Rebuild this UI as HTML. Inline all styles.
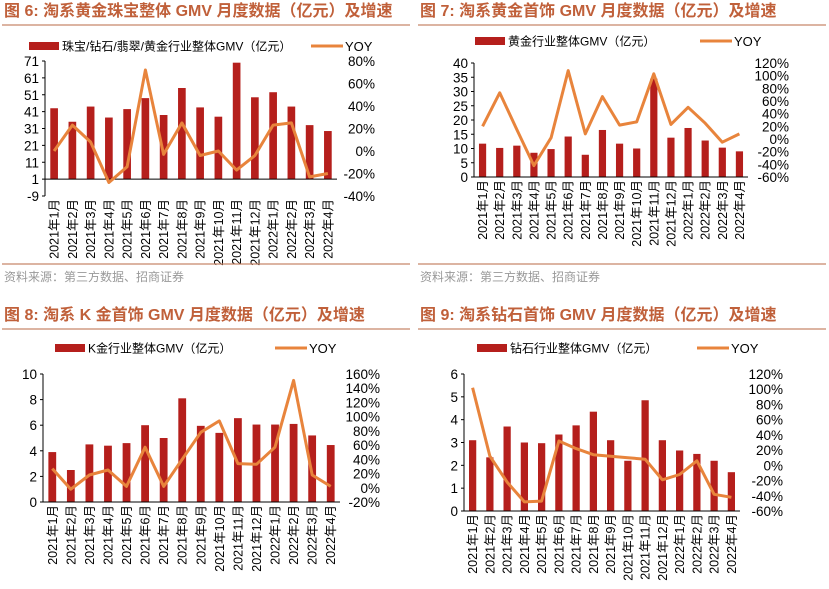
<!DOCTYPE html>
<html><head><meta charset="utf-8"><style>
body{margin:0;background:#fff;width:829px;height:589px;overflow:hidden;font-family:"Liberation Sans","Noto Sans CJK SC",sans-serif}
svg{position:absolute;left:0;top:0}
</style></head><body>
<svg id="s" width="829" height="589"></svg>
<script>
const cats=["2021年1月","2021年2月","2021年3月","2021年4月","2021年5月","2021年6月","2021年7月","2021年8月","2021年9月","2021年10月","2021年11月","2021年12月","2022年1月","2022年2月","2022年3月","2022年4月"];
const gmv6=[43,35,44,37.5,42.5,49,39,55,43.5,38,70,49.5,52.5,44,33,29.5];
const yoy6=[0,23,8,-28,-14,72,-3,25,-4,0,-17,-4,23,25,-23,-20];
const left6=[71,61,51,41,31,21,11,1,-9];
const right6=["80%","60%","40%","20%","0%","-20%","-40%"];
const gmv7=[11.7,10.2,11,8.5,9.8,14.2,7.8,16.5,11.7,10,34.5,13.8,17.2,12.8,10.3,9];
const yoy7=[20,73,15,-42,2,108,8,67,22,27,103,23,50,25,-5,8];
const left7=[40,35,30,25,20,15,10,5,0];
const right7=["120%","100%","80%","60%","40%","20%","0%","-20%","-40%","-60%"];
const gmv8=[3.9,2.5,4.5,4.4,4.6,6,5,8.1,5.95,5.4,6.55,6.05,6.05,6.1,5.2,4.45];
const yoy8=[27,-2,18,25,2,57,2,40,78,94,34,33,57,151,18,2];
const left8=[10,8,6,4,2,0];
const right8=["160%","140%","120%","100%","80%","60%","40%","20%","0%","-20%"];
const gmv9=[3.1,2.35,3.7,3.0,2.97,3.35,3.75,4.35,3.1,2.2,4.85,3.1,2.65,2.5,2.2,1.7];
const yoy9=[102,12,-22,-48,-47,32,22,14,12,10,8,-19,-12,6,-38,-42];
const left9=[6,5,4,3,2,1,0];
const right9=["120%","100%","80%","60%","40%","20%","0%","-20%","-40%","-60%"];

const S=document.getElementById('s');const NS='http://www.w3.org/2000/svg';
function mk(t,a,txt){const e=document.createElementNS(NS,t);for(const k in a)e.setAttribute(k,a[k]);if(txt!=null)e.textContent=txt;S.appendChild(e);return e;}
function chart(o,gmv,yoy,lt,rt){
 const t=mk('text',{x:o.ox+2,y:o.ty,'font-size':16,'font-weight':'bold',fill:'#c0603a'},o.title);
 
 const l=mk('line',{x1:o.ox,x2:o.ox+408,y1:o.ty+9,y2:o.ty+9,stroke:'#c8866a','stroke-width':1.2});
 
 const lr=mk('rect',{x:o.lgx,y:o.lgy-4,width:30,height:8,fill:'#b51f1c'});
 
 const lt1=mk('text',{x:o.lgx+33,y:o.lgy+4.5,'font-size':12,fill:'#000'},o.leg);
 
 const ll=mk('line',{x1:o.lgx2,x2:o.lgx2+32,y1:o.lgy,y2:o.lgy,stroke:'#e8843c','stroke-width':3});
 
 const lt2=mk('text',{x:o.lgx2+34,y:o.lgy+5,'font-size':13,fill:'#000'},'YOY');
 
 const lmax=lt[0],lmin=lt[lt.length-1];
 const yL=v=>o.y0+(lmax-v)/(lmax-lmin)*(o.y1-o.y0);
 const rmax=parseFloat(rt[0]),rmin=parseFloat(rt[rt.length-1]);
 const yR=v=>o.y0+(rmax-v)/(rmax-rmin)*(o.y1-o.y0);
 const bw=(o.x1-o.x0)/cats.length;const xC=i=>o.x0+bw*(i+0.5);
 lt.forEach(v=>{const e=mk('text',{x:o.x0-6,y:yL(v)+5,'font-size':13.5,'text-anchor':'end'},v);
  
  const k=mk('line',{x1:o.x0-3,x2:o.x0,y1:yL(v),y2:yL(v),stroke:'#000'});
  });
 rt.forEach(v=>{const e=mk('text',{x:o.rx,y:yR(parseFloat(v))+5,'font-size':13.5,'text-anchor':'end'},v);
  });
 const base=yL(o.base);
 gmv.forEach((v,i)=>{const y=yL(v);const r=mk('rect',{x:xC(i)-bw*0.21,y:Math.min(y,base),width:bw*0.42,height:Math.abs(base-y),fill:'#b51f1c'});
  });
 const ax=mk('line',{x1:o.x0,x2:o.x0,y1:o.y0,y2:o.y1,stroke:'#000'});
 
 const xa=mk('line',{x1:o.x0,x2:o.x1,y1:base,y2:base,stroke:'#000'});
 
 const pts=yoy.map((v,i)=>xC(i).toFixed(1)+','+yR(v).toFixed(1)).join(' ');
 const p=mk('polyline',{points:pts,fill:'none',stroke:'#e8843c','stroke-width':3,'stroke-linejoin':'round'});
 
 cats.forEach((c,i)=>{const x=xC(i)+4.5,y=o.y1+3;const e=mk('text',{x:x,y:y,'font-size':12.5,'text-anchor':'end',transform:`rotate(-90 ${x} ${y})`},c);
  });
 if(o.src){const f=mk('line',{x1:o.ox,x2:o.ox+408,y1:o.src-12,y2:o.src-12,stroke:'#c8866a','stroke-width':1.2});
  
  const s=mk('text',{x:o.ox+2,y:o.src+5,'font-size':12,fill:'#999'},'资料来源：第三方数据、招商证券');
  }
}
chart({ox:2,ty:16,title:'图 6:  淘系黄金珠宝整体 GMV 月度数据（亿元）及增速',lgx:29,lgx2:311,lgy:46,leg:'珠宝/钻石/翡翠/黄金行业整体GMV（亿元）',x0:45,x1:337,y0:61,y1:196,rx:375,base:1,src:276},gmv6,yoy6,left6,right6);
chart({ox:418,ty:16,title:'图 7:  淘系黄金首饰 GMV 月度数据（亿元）及增速',lgx:475,lgx2:700,lgy:41,leg:'黄金行业整体GMV（亿元）',x0:474,x1:748,y0:63,y1:177,rx:789,base:0,src:276},gmv7,yoy7,left7,right7);
chart({ox:2,ty:320,title:'图 8:  淘系 K 金首饰 GMV 月度数据（亿元）及增速',lgx:55,lgx2:275,lgy:348,leg:'K金行业整体GMV（亿元）',x0:43,x1:340,y0:374,y1:502,rx:380,base:0,src:0},gmv8,yoy8,left8,right8);
chart({ox:418,ty:320,title:'图 9:  淘系钻石首饰 GMV 月度数据（亿元）及增速',lgx:477,lgx2:697,lgy:348,leg:'钻石行业整体GMV（亿元）',x0:464,x1:740,y0:374,y1:511,rx:783,base:0,src:0},gmv9,yoy9,left9,right9);
</script>
</body></html>
